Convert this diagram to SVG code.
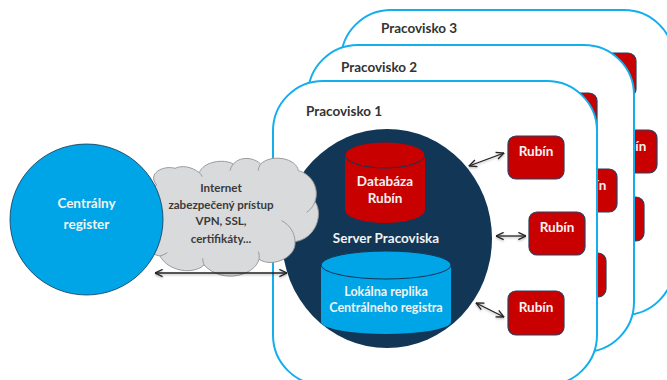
<svg xmlns="http://www.w3.org/2000/svg" width="667" height="380" viewBox="0 0 667 380">
<style>
text{font-family:Lato,"Liberation Sans",sans-serif;font-weight:700;text-anchor:middle}
.card{fill:#fff;stroke:#12aeee;stroke-width:2}
.cardT{fill:#333;font-size:13.500px;text-anchor:start}
.rub{fill:#c80000;stroke:#2b3f5f;stroke-width:1.2}
.rubT{fill:#f4f4f4;font-size:13.500px}
.w{fill:#f2f2f2;font-size:13.500px}
.s{fill:#f2f2f2;font-size:12.500px}
.d{fill:#3a3a3a;font-size:11.600px}
.arr{fill:none;stroke:#222;stroke-width:1.3;marker-start:url(#h);marker-end:url(#h);filter:url(#sh)}
</style>
<defs>
<marker id="h" viewBox="0 0 10 10" refX="9.5" refY="5" markerWidth="9" markerHeight="9" markerUnits="userSpaceOnUse" orient="auto-start-reverse"><path d="M1 1L9.5 5L1 9" fill="none" stroke="#222" stroke-width="1.4"/></marker>
<filter id="sh" filterUnits="userSpaceOnUse" x="0" y="0" width="667" height="380"><feDropShadow dx="0" dy="1.2" stdDeviation="1" flood-color="#000" flood-opacity=".3"/></filter>
</defs>
<g id="pracovisko3">
<rect class="card" x="341" y="10" width="333" height="305" rx="50"/>
<text class="cardT" x="381" y="33">Pracovisko 3</text>
<rect class="rub" x="580" y="53" width="56" height="44" rx="8"/>
<rect class="rub" x="601" y="130" width="56" height="43" rx="8"/>
<text class="rubT" x="629" y="151">Rubín</text>
<rect class="rub" x="588" y="197" width="56" height="44" rx="8"/>
</g>
<g id="pracovisko2">
<rect class="card" x="308" y="45" width="326" height="307" rx="50"/>
<text class="cardT" x="341" y="72">Pracovisko 2</text>
<rect class="rub" x="541" y="93" width="56" height="44" rx="8"/>
<rect class="rub" x="561" y="169" width="56" height="43" rx="8"/>
<text class="rubT" x="589" y="190">Rubín</text>
<rect class="rub" x="550" y="253" width="56" height="44" rx="8"/>
</g>
<g id="pracovisko1">
<rect class="card" x="273" y="81" width="324" height="304" rx="50"/>
<text class="cardT" x="306" y="116">Pracovisko 1</text>
</g>
<g id="server">
<ellipse cx="387" cy="238.500" rx="105" ry="109.500" fill="#123655"/>
<text class="w" x="386" y="243">Server Pracoviska</text>
</g>
<g id="databaza">
<path d="M345 155V210A40 13 0 0 0 425 210V155Z" fill="#c80000"/>
<ellipse cx="385" cy="155" rx="40" ry="13" fill="#c80000" stroke="#123655" stroke-width="1"/>
<text class="w" x="385" y="186">Databáza</text>
<text class="w" x="385" y="203">Rubín</text>
</g>
<g id="replika">
<path d="M321 265V322A65 12 0 0 0 451 322V265Z" fill="#00a5e8"/>
<ellipse cx="386" cy="265" rx="65" ry="14" fill="#00a5e8" stroke="#123655" stroke-width="1"/>
<text class="s" x="386" y="296">Lokálna replika</text>
<text class="s" x="386" y="312">Centrálneho registra</text>
</g>
<g id="cloud">
<g transform="translate(140 150) scale(.3333)">
<path d="M50 105C20 70 70 45 105 55C125 45 155 50 178 68C190 35 250 25 280 42C305 15 345 25 362 42C395 10 470 25 475 62C510 70 540 110 525 155C550 190 530 265 465 275C470 320 400 355 357 328C345 375 250 405 192 345C160 375 85 365 60 318C10 310 -20 250 25 215C-10 170 5 115 50 105Z" fill="#d9dadc" stroke="#9a9a9a" stroke-width="3"/>
<path d="M425 212C450 225 465 250 465 275M525 155C520 170 510 180 500 187M280 42C275 48 272 55 270 62M362 42C358 48 355 55 355 62M178 68C182 72 185 76 187 80M357 328C358 320 358 310 355 305M192 345C190 338 188 330 188 325M60 318C68 316 76 312 82 308" fill="none" stroke="#9a9a9a" stroke-width="3"/>
</g>
<text class="d" x="221" y="192">Internet</text>
<text class="d" x="221" y="209">zabezpečený prístup</text>
<text class="d" x="221" y="225">VPN, SSL,</text>
<text class="d" x="221" y="243">certifikáty...</text>
</g>
<g id="centralny">
<ellipse cx="86.500" cy="219.500" rx="76.500" ry="75.500" fill="#00a5e8" stroke="#123655" stroke-width=".8"/>
<text class="w" x="86.500" y="208">Centrálny</text>
<text class="w" x="86.500" y="229">register</text>
</g>
<g id="rubin1"><rect class="rub" x="508" y="136" width="56" height="43" rx="8"/><text class="rubT" x="536" y="156">Rubín</text></g>
<g id="rubin2"><rect class="rub" x="529" y="212" width="56" height="43" rx="8"/><text class="rubT" x="557" y="232">Rubín</text></g>
<g id="rubin3"><rect class="rub" x="508" y="291" width="56" height="44" rx="8"/><text class="rubT" x="536" y="312">Rubín</text></g>
<g id="connectors">
<path class="arr" d="M155 273H287"/>
<path class="arr" d="M469 166L504 153"/>
<path class="arr" d="M496 236H526"/>
<path class="arr" d="M476 303L504 317"/>
</g>
</svg>
